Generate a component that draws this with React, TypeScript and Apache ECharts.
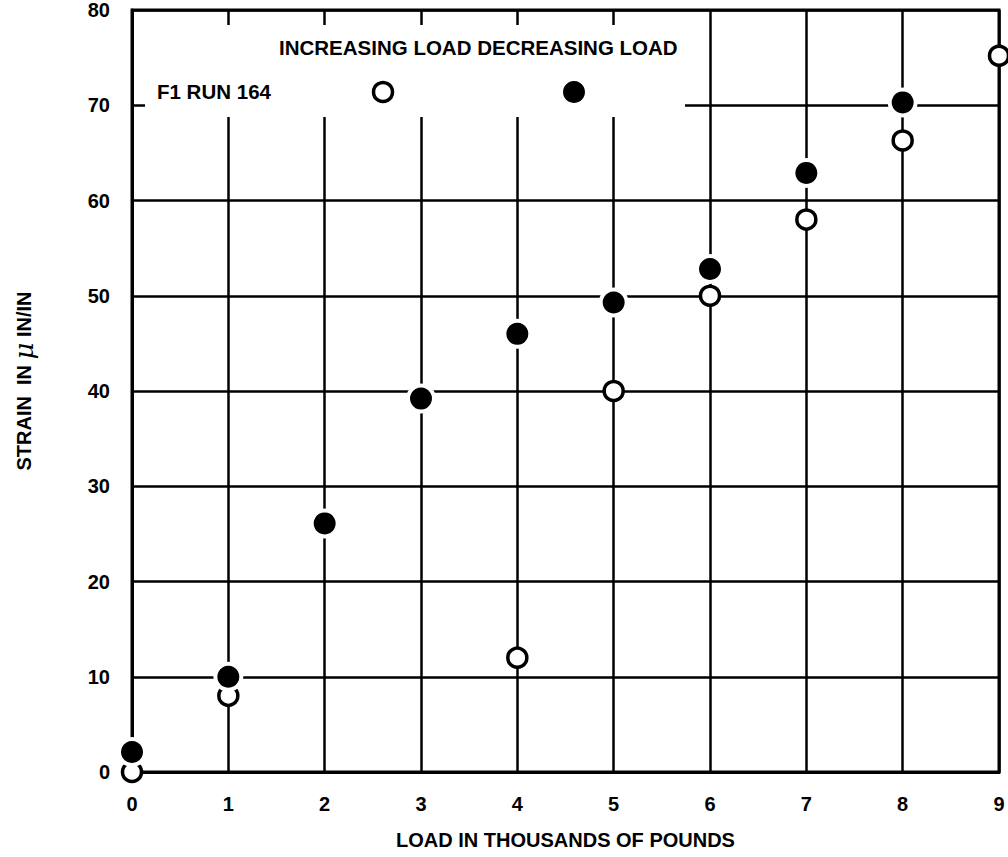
import React, { useEffect, useRef } from "react";
import * as echarts from "echarts";

// Load in thousands of pounds
const loadTicks = [0, 1, 2, 3, 4, 5, 6, 7, 8, 9];

// Increasing load (open circles)
const increasingLoad = [0, 1, 4, 5, 6, 7, 8, 9];
const increasingStrain = [0, 8, 12, 40, 50, 58, 66.3, 75.2];

// Decreasing load (filled circles)
const decreasingLoad = [0, 1, 2, 3, 4, 5, 6, 7, 8];
const decreasingStrain = [2.1, 10, 26.1, 39.2, 46, 49.3, 52.8, 62.9, 70.3];

const legendTitle = "INCREASING LOAD DECREASING LOAD";
const runLabel = "F1 RUN 164";

const FONT = "'Liberation Sans', Arial, Helvetica, sans-serif";

export default function App() {
  const ref = useRef<HTMLDivElement>(null);

  useEffect(() => {
    document.body.style.margin = "0";
    const chart = echarts.init(ref.current!, null, { renderer: "svg" });

    const incPoints = increasingLoad.map((x, i) => [x, increasingStrain[i]]);
    const decPoints = decreasingLoad.map((x, i) => [x, decreasingStrain[i]]);

    chart.setOption({
      animation: false,
      backgroundColor: "#ffffff",
      grid: {
        left: 132,
        right: 9,
        top: 10,
        bottom: 85,
        show: true,
        borderColor: "#000",
        borderWidth: 3,
      },
      xAxis: {
        type: "value",
        min: 0,
        max: 9,
        interval: 1,
        name: "LOAD IN THOUSANDS OF POUNDS",
        nameLocation: "middle",
        nameGap: 68,
        nameTextStyle: {
          fontFamily: FONT,
          fontWeight: "bold",
          fontSize: 20,
          color: "#000",
          verticalAlign: "middle",
        },
        axisLine: { show: true, lineStyle: { color: "#000", width: 3 } },
        axisTick: { show: false },
        axisLabel: {
          margin: 22,
          fontFamily: FONT,
          fontWeight: "bold",
          fontSize: 20,
          color: "#000",
          formatter: (v: number) => (loadTicks.includes(v) ? String(v) : ""),
        },
        splitLine: { show: true, lineStyle: { color: "#000", width: 2.5 } },
      },
      yAxis: {
        type: "value",
        min: 0,
        max: 80,
        interval: 10,
        name: "{a|STRAIN  IN }{mu|μ}{a| IN/IN}",
        nameLocation: "middle",
        nameGap: 108,
        nameRotate: 90,
        nameTextStyle: {
          color: "#000",
          verticalAlign: "middle",
          padding: [0, 0, 0, 20],
          rich: {
            a: {
              fontFamily: FONT,
              fontWeight: "bold",
              fontSize: 20,
              color: "#000",
            },
            mu: {
              fontFamily: "'DejaVu Serif', serif",
              fontStyle: "italic",
              fontSize: 26,
              color: "#000",
            },
          },
        },
        axisLine: { show: true, lineStyle: { color: "#000", width: 3 } },
        axisTick: { show: false },
        axisLabel: {
          margin: 22,
          fontFamily: FONT,
          fontWeight: "bold",
          fontSize: 20,
          color: "#000",
          padding: [7, 0, 0, 0],
        },
        splitLine: { show: true, lineStyle: { color: "#000", width: 2.5 } },
      },
      graphic: [
        // clear the grid behind the key
        {
          type: "rect",
          z: 1,
          silent: true,
          shape: { x: 145, y: 25, width: 540, height: 92 },
          style: { fill: "#ffffff" },
        },
        {
          type: "text",
          z: 1,
          left: 279,
          top: 37,
          style: {
            text: legendTitle,
            fontFamily: FONT,
            fontWeight: "bold",
            fontSize: 20.5,
            fill: "#000",
          },
        },
        {
          type: "text",
          z: 1,
          left: 157,
          top: 81,
          style: {
            text: runLabel,
            fontFamily: FONT,
            fontWeight: "bold",
            fontSize: 20.5,
            fill: "#000",
          },
        },
        {
          type: "circle",
          z: 3,
          shape: { cx: 383, cy: 92, r: 9.5 },
          style: { fill: "#fff", stroke: "#000", lineWidth: 3.5 },
        },
        {
          type: "circle",
          z: 3,
          shape: { cx: 574, cy: 92, r: 11 },
          style: { fill: "#000" },
        },
      ],
      series: [
        {
          name: "INCREASING LOAD",
          type: "scatter",
          clip: false,
          data: incPoints,
          symbol: "circle",
          symbolSize: 19,
          itemStyle: { color: "#fff", borderColor: "#000", borderWidth: 3.5, opacity: 1 },
          z: 3,
        },
        {
          name: "DECREASING LOAD halo",
          type: "scatter",
          clip: false,
          silent: true,
          data: decPoints,
          symbol: "circle",
          symbolSize: 30,
          itemStyle: { color: "#fff", opacity: 1 },
          z: 4,
        },
        {
          name: "DECREASING LOAD",
          type: "scatter",
          clip: false,
          data: decPoints,
          symbol: "circle",
          symbolSize: 22,
          itemStyle: { color: "#000", opacity: 1 },
          z: 5,
        },
      ],
    });

    return () => chart.dispose();
  }, []);

  return <div ref={ref} style={{ width: 1008, height: 857 }} />;
}
